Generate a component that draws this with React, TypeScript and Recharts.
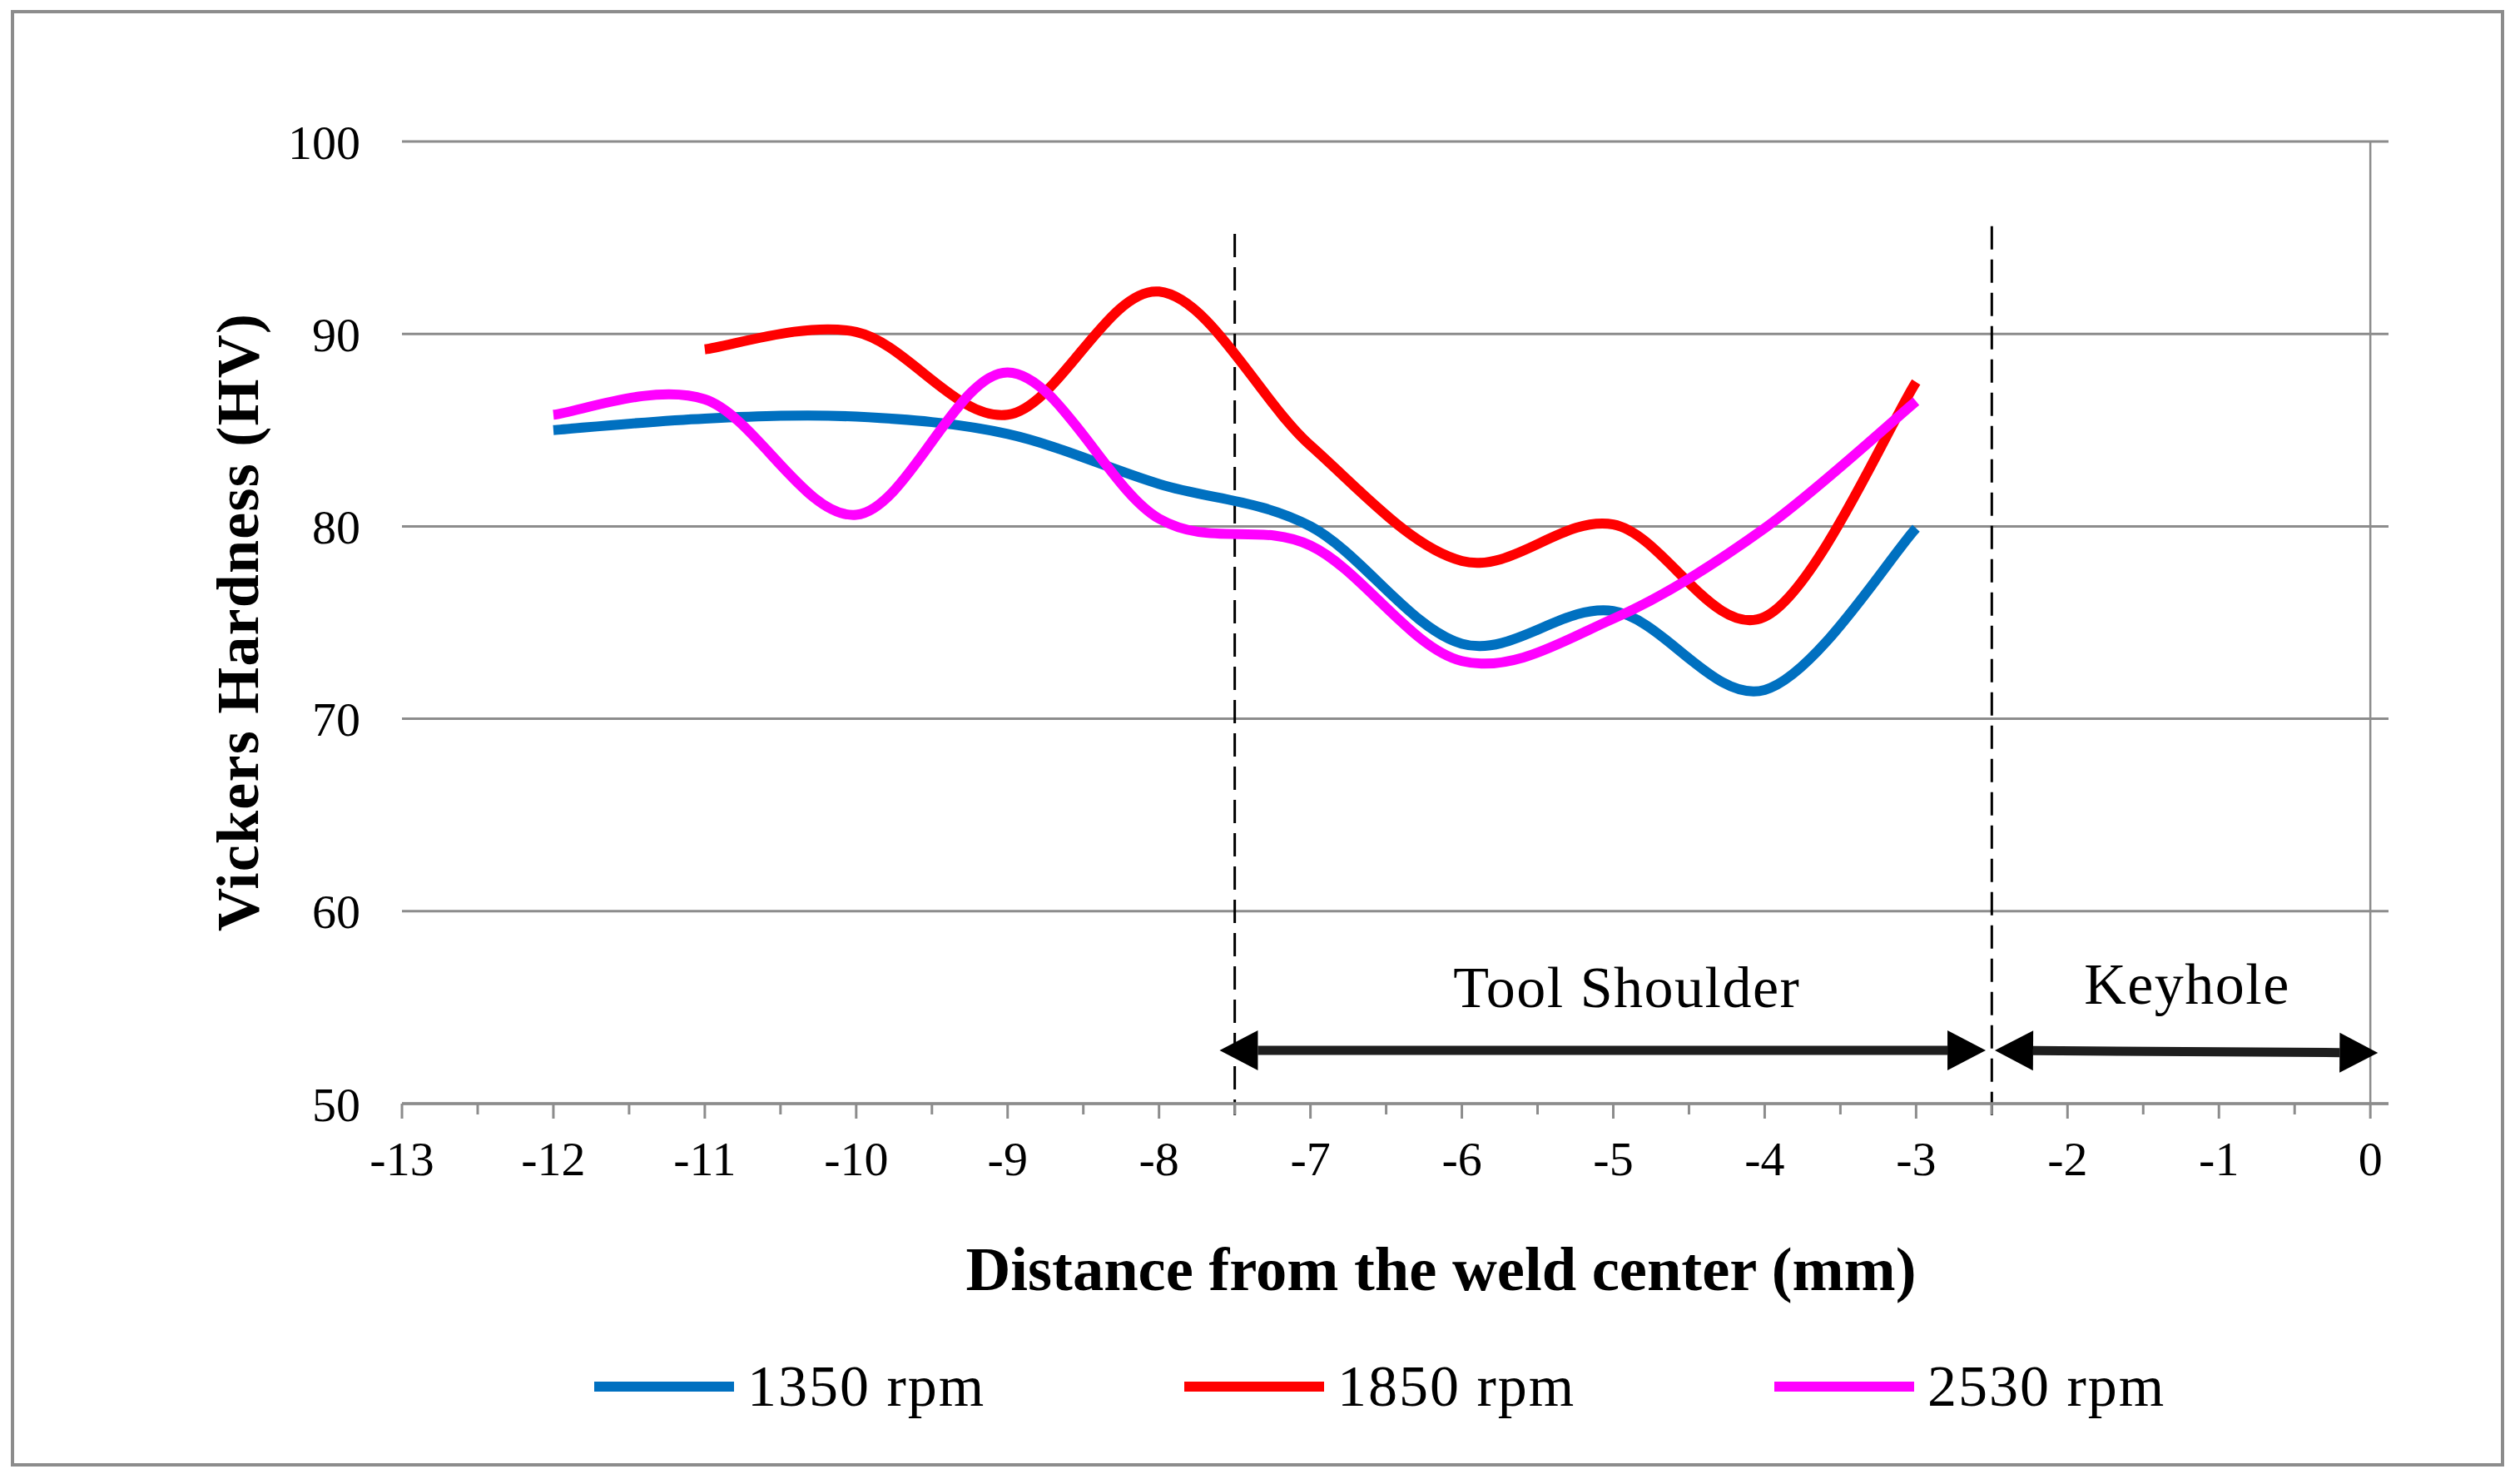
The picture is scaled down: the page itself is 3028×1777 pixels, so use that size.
import React from 'react';
import {
  LineChart,
  Line,
  XAxis,
  YAxis,
  CartesianGrid,
  ReferenceLine,
  ReferenceDot,
  Legend,
  Label,
} from 'recharts';

const FONT = '"Liberation Serif", "Times New Roman", serif';
const GRID = '#8c8c8c';

// distance from weld center (mm)
const distance = [-12, -11, -10, -9, -8, -7, -6, -5, -4, -3];
// Vickers hardness (HV)
const hv1350 = [85.0, 85.6, 85.7, 84.8, 82.2, 80.0, 73.9, 75.6, 71.5, 79.9];
const hv1850 = [null, 89.2, 90.1, 85.8, 92.2, 84.2, 78.2, 80.1, 75.3, 87.5];
const hv2530 = [85.8, 86.6, 80.6, 88.0, 80.4, 79.0, 73.0, 75.2, 79.9, 86.5];

const xTicks = [
  -13, -12.5, -12, -11.5, -11, -10.5, -10, -9.5, -9, -8.5, -8, -7.5, -7, -6.5, -6, -5.5, -5, -4.5, -4,
  -3.5, -3, -2.5, -2, -1.5, -1, -0.5, 0,
];
const yTicks = [50, 60, 70, 80, 90, 100];

const series = [
  { key: 'rpm1350', name: '1350 rpm', color: '#0070C0', values: hv1350 },
  { key: 'rpm1850', name: '1850 rpm', color: '#FF0000', values: hv1850 },
  { key: 'rpm2530', name: '2530 rpm', color: '#FF00FF', values: hv2530 },
];

// zone boundaries and labels
const boundaries = [
  { x: -7.5, top: 95.2 },
  { x: -2.5, top: 95.6 },
];
const zoneArrows = [
  { from: -7.6, to: -2.54, y1: 52.77, y2: 52.77 },
  { from: -2.48, to: 0.05, y1: 52.77, y2: 52.64 },
];
const zoneLabels = [
  { text: 'Tool Shoulder', x: -4.91, y: 55.02 },
  { text: 'Keyhole', x: -1.21, y: 55.19 },
];

const data = distance.map((d, i) => {
  const row: Record<string, number | null> = { distance: d };
  series.forEach((s) => {
    row[s.key] = s.values[i];
  });
  return row;
});

// Excel-style smoothed line (Catmull-Rom through the points)
function excelSmooth(context: any) {
  let pts: number[][] = [];
  return {
    areaStart() {},
    areaEnd() {},
    lineStart() {
      pts = [];
    },
    point(x: number, y: number) {
      pts.push([+x, +y]);
    },
    lineEnd() {
      const n = pts.length;
      if (!n) return;
      context.moveTo(pts[0][0], pts[0][1]);
      for (let i = 0; i < n - 1; i++) {
        const p0 = pts[Math.max(i - 1, 0)];
        const p1 = pts[i];
        const p2 = pts[i + 1];
        const p3 = pts[Math.min(i + 2, n - 1)];
        context.bezierCurveTo(
          p1[0] + (p2[0] - p0[0]) / 6,
          p1[1] + (p2[1] - p0[1]) / 6,
          p2[0] - (p3[0] - p1[0]) / 6,
          p2[1] - (p3[1] - p1[1]) / 6,
          p2[0],
          p2[1]
        );
      }
    },
  };
}

function renderXTick(props: any) {
  const { x, y, payload } = props;
  const v = payload.value;
  const major = Number.isInteger(v);
  return (
    <g>
      <line x1={x} x2={x} y1={y} y2={y + (major ? 18 : 13)} stroke={GRID} strokeWidth={3} />
      {major && (
        <text x={x} y={y + 86} textAnchor="middle" fontFamily={FONT} fontSize={58} fill="#000">
          {v}
        </text>
      )}
    </g>
  );
}

function DoubleArrow(props: any) {
  const { x1, y1, x2, y2 } = props;
  const head = 46;
  const half = 24;
  const len = Math.hypot(x2 - x1, y2 - y1);
  const ux = (x2 - x1) / len;
  const uy = (y2 - y1) / len;
  const nx = -uy;
  const ny = ux;
  const ax = x1 + ux * head;
  const ay = y1 + uy * head;
  const bx = x2 - ux * head;
  const by = y2 - uy * head;
  return (
    <g>
      <line x1={ax} y1={ay} x2={bx} y2={by} stroke="#1e1e1e" strokeWidth={11} />
      <polygon
        points={`${x1},${y1} ${ax + nx * half},${ay + ny * half} ${ax - nx * half},${ay - ny * half}`}
        fill="#000"
      />
      <polygon
        points={`${x2},${y2} ${bx + nx * half},${by + ny * half} ${bx - nx * half},${by - ny * half}`}
        fill="#000"
      />
    </g>
  );
}

function YTitle(props: any) {
  const { viewBox } = props;
  const cx = viewBox.x + 3;
  const cy = viewBox.y + viewBox.height / 2;
  return (
    <text
      x={cx}
      y={cy}
      transform={`rotate(-90, ${cx}, ${cy})`}
      textAnchor="middle"
      dominantBaseline="central"
      fontFamily={FONT}
      fontWeight="bold"
      fontSize={72}
      textLength={742}
      lengthAdjust="spacing"
      fill="#000"
    >
      Vickers Hardness (HV)
    </text>
  );
}

function XTitle(props: any) {
  const { viewBox } = props;
  return (
    <text
      x={viewBox.x + viewBox.width / 2 + 55}
      y={viewBox.y + 224}
      textAnchor="middle"
      fontFamily={FONT}
      fontWeight="bold"
      fontSize={73}
      textLength={1142}
      lengthAdjust="spacingAndGlyphs"
      fill="#000"
    >
      Distance from the weld center (mm)
    </text>
  );
}

function LegendContent() {
  return (
    <div style={{ display: 'flex', alignItems: 'center', height: 100 }}>
      {series.map((s) => (
        <div key={s.key} style={{ width: 709, display: 'flex', alignItems: 'center' }}>
          <div style={{ width: 168, height: 12, background: s.color, marginRight: 16 }} />
          <span style={{ fontFamily: FONT, fontSize: 70, letterSpacing: 2, lineHeight: 1, color: '#000' }}>
            {s.name}
          </span>
        </div>
      ))}
    </div>
  );
}

export default function App() {
  return (
    <div style={{ position: 'relative', width: 3028, height: 1777, margin: -8, background: '#fff' }}>
      <div
        style={{
          position: 'absolute',
          left: 13,
          top: 12,
          width: 2996,
          height: 1750,
          border: `4px solid ${GRID}`,
          boxSizing: 'border-box',
          pointerEvents: 'none',
        }}
      />
      <LineChart width={3028} height={1777} data={data} margin={{ top: 170, right: 158, left: 283, bottom: 351 }}>
        <CartesianGrid horizontal vertical={false} stroke={GRID} strokeWidth={3} />
        <XAxis
          dataKey="distance"
          type="number"
          domain={[-13, 0.12]}
          ticks={xTicks}
          interval={0}
          height={100}
          tickSize={0}
          tickMargin={0}
          tickLine={false}
          tick={renderXTick}
          axisLine={{ stroke: GRID, strokeWidth: 3.5 }}
          label={<Label content={XTitle} />}
        />
        <YAxis
          type="number"
          domain={[50, 100]}
          ticks={yTicks}
          width={200}
          axisLine={false}
          tickLine={false}
          tickSize={0}
          tickMargin={50}
          tick={{ fontFamily: FONT, fontSize: 58, fill: '#000' }}
          label={<Label content={YTitle} />}
        />
        <ReferenceLine x={0} stroke={GRID} strokeWidth={2.5} />
        {boundaries.map((b) => (
          <ReferenceLine
            key={b.x}
            segment={[
              { x: b.x, y: b.top },
              { x: b.x, y: 49.4 },
            ]}
            stroke="#000"
            strokeWidth={3}
            strokeDasharray="28 12"
            ifOverflow="visible"
          />
        ))}
        {zoneArrows.map((a) => (
          <ReferenceLine
            key={a.from}
            segment={[
              { x: a.from, y: a.y1 },
              { x: a.to, y: a.y2 },
            ]}
            shape={DoubleArrow}
            ifOverflow="visible"
          />
        ))}
        {zoneLabels.map((z) => (
          <ReferenceDot
            key={z.text}
            x={z.x}
            y={z.y}
            r={0}
            shape={(p: any) => (
              <text x={p.cx} y={p.cy} textAnchor="middle" fontFamily={FONT} fontSize={70} letterSpacing={1.5} fill="#000">
                {z.text}
              </text>
            )}
          />
        ))}
        {series.map((s) => (
          <Line
            key={s.key}
            dataKey={s.key}
            name={s.name}
            type={excelSmooth as any}
            stroke={s.color}
            strokeWidth={12}
            dot={false}
            activeDot={false}
            isAnimationActive={false}
          />
        ))}
        <Legend
          layout="horizontal"
          verticalAlign="middle"
          content={<LegendContent />}
          wrapperStyle={{ left: 714, top: 1616, width: 2200, height: 100 }}
        />
      </LineChart>
    </div>
  );
}
